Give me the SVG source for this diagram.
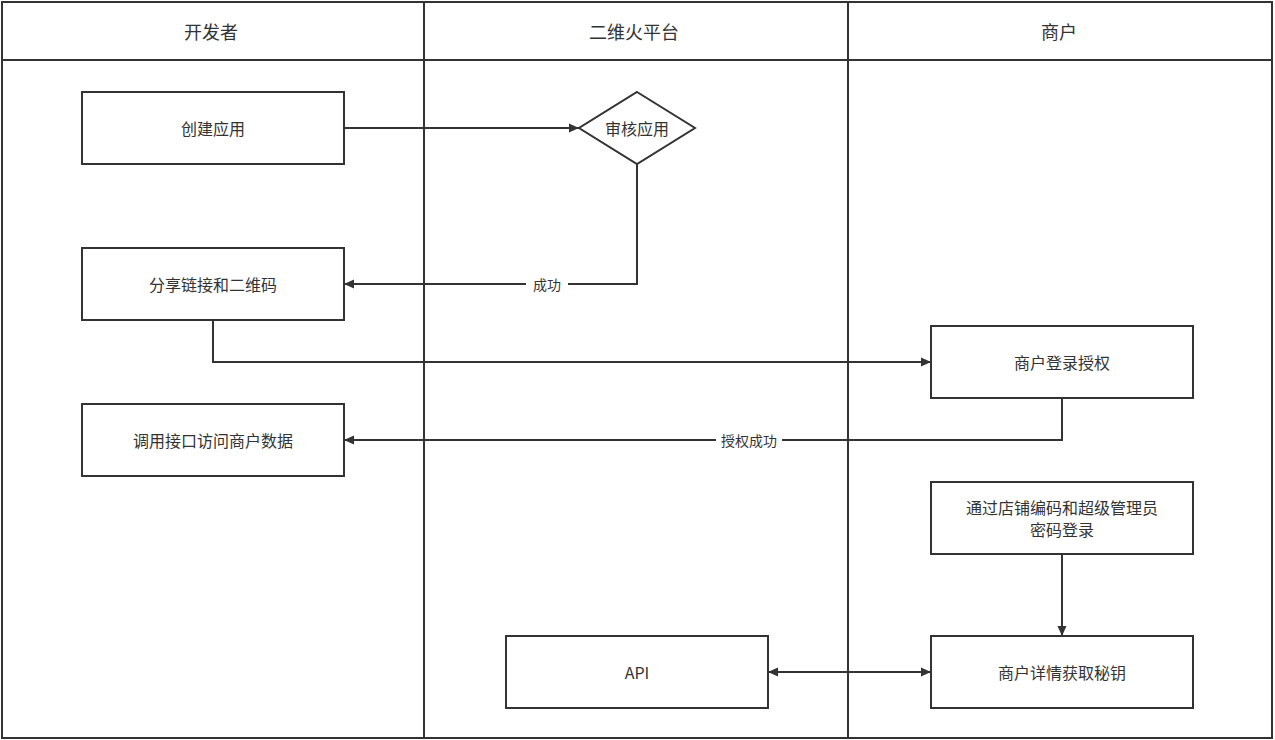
<svg xmlns="http://www.w3.org/2000/svg" width="1275" height="740" viewBox="0 0 1275 740">
<defs>
<marker id="arr" viewBox="0 0 10 10" refX="10" refY="5" markerWidth="10" markerHeight="10" markerUnits="userSpaceOnUse" orient="auto-start-reverse">
<path d="M0,0.5 L10,5 L0,9.5 Z" fill="#333"/>
</marker>
<style>
.ln{fill:none;stroke:#333;stroke-width:2}
.nd{fill:#fff;stroke:#333;stroke-width:2}
.t{font-family:"Noto Sans CJK SC","Liberation Sans",sans-serif;font-size:16px;fill:#333;text-anchor:middle;dominant-baseline:central}
.h{font-size:18px}
.lb{font-size:14px}
.c{fill:none;stroke:#333;stroke-width:2}
</style>
</defs>
<rect width="1275" height="740" fill="#fff"/>
<g id="lanes">
<rect x="2" y="2" width="1270" height="736" class="ln"/>
<line x1="2" y1="60" x2="1272" y2="60" class="ln"/>
<line x1="424" y1="2" x2="424" y2="738" class="ln"/>
<line x1="848" y1="2" x2="848" y2="738" class="ln"/>
<text x="211" y="31" class="t h">开发者</text>
<text x="634" y="31" class="t h">二维火平台</text>
<text x="1059" y="31" class="t h">商户</text>
</g>
<g id="connectors">
<path d="M344,128 H579" class="c" marker-end="url(#arr)"/>
<path d="M637,164 V284 H344" class="c" marker-end="url(#arr)"/>
<path d="M213,320 V362 H931" class="c" marker-end="url(#arr)"/>
<path d="M1062,398 V440 H344" class="c" marker-end="url(#arr)"/>
<path d="M1062,554 V636" class="c" marker-end="url(#arr)"/>
<path d="M768,672 H931" class="c" marker-start="url(#arr)" marker-end="url(#arr)"/>
<rect x="526" y="274" width="42" height="20" fill="#fff"/>
<text x="547" y="284" class="t lb">成功</text>
<rect x="716" y="430" width="66" height="20" fill="#fff"/>
<text x="749" y="440" class="t lb">授权成功</text>
</g>
<g id="n1"><rect x="82" y="92" width="262" height="72" class="nd"/><text x="213" y="128" class="t">创建应用</text></g>
<g id="n2"><path d="M637,92 L695,128 L637,164 L579,128 Z" class="nd"/><text x="637" y="128" class="t">审核应用</text></g>
<g id="n3"><rect x="82" y="248" width="262" height="72" class="nd"/><text x="213" y="284" class="t">分享链接和二维码</text></g>
<g id="n4"><rect x="931" y="326" width="262" height="72" class="nd"/><text x="1062" y="362" class="t">商户登录授权</text></g>
<g id="n5"><rect x="82" y="404" width="262" height="72" class="nd"/><text x="213" y="440" class="t">调用接口访问商户数据</text></g>
<g id="n6"><rect x="931" y="482" width="262" height="72" class="nd"/><text x="1062" y="507" class="t">通过店铺编码和超级管理员</text><text x="1062" y="529" class="t">密码登录</text></g>
<g id="n7"><rect x="506" y="636" width="262" height="72" class="nd"/><text x="637" y="672" class="t">API</text></g>
<g id="n8"><rect x="931" y="636" width="262" height="72" class="nd"/><text x="1062" y="672" class="t">商户详情获取秘钥</text></g>
</svg>
